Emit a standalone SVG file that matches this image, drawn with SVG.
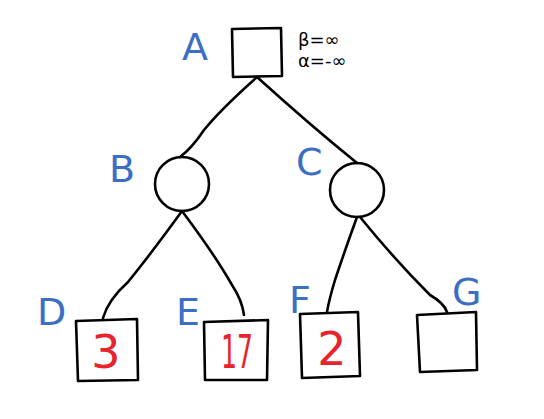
<svg xmlns="http://www.w3.org/2000/svg" width="544" height="419" viewBox="0 0 544 419">
<style>
.shape{fill:none;stroke:#000;stroke-width:2.6;stroke-linecap:round;stroke-linejoin:round}
.lbl{font-family:"DejaVu Sans","Liberation Sans",sans-serif;font-size:38px;fill:#3c6fc4}
.val{font-family:"DejaVu Sans","Liberation Sans",sans-serif;font-size:46px;fill:#e8232b;text-anchor:middle}
.note{font-family:"DejaVu Sans","Liberation Sans",sans-serif;font-size:18px;fill:#000}
</style>
<rect width="544" height="419" fill="#fff"/>
<g id="connectors" class="shape">
<path d="M257,77 Q220,110 204,130 Q192,148 180,157"/>
<path d="M257,77 Q310,125 357,163"/>
<path d="M182,211 Q150,255 128,282 Q108,300 103,318"/>
<path d="M182,211 Q215,255 232,285 Q242,300 244,315"/>
<path d="M357,217 Q345,250 335,280 Q329,300 327,312"/>
<path d="M360,217 Q395,260 430,295 Q444,303 447,312"/>
</g>
<g id="A">
<path class="shape" d="M232,29 L281,28 L282,76 L233,77 Z"/>
<text class="lbl" x="182" y="60">A</text>
<text class="note" x="298" y="46">β=∞</text>
<text class="note" x="298" y="67">α=-∞</text>
</g>
<g id="B">
<circle class="shape" cx="182" cy="184" r="27"/>
<text class="lbl" x="109" y="182">B</text>
</g>
<g id="C">
<circle class="shape" cx="357" cy="190" r="27"/>
<text class="lbl" x="296" y="175">C</text>
</g>
<g id="D">
<path class="shape" d="M76,321 L137,319 L138,380 L78,381 Z"/>
<text class="lbl" x="37" y="325">D</text>
<text class="val" x="106" y="368">3</text>
</g>
<g id="E">
<path class="shape" d="M204,322 L268,320 L267,380 L205,380 Z"/>
<text class="lbl" x="176" y="325">E</text>
<text class="val" x="237" y="368" textLength="32" lengthAdjust="spacingAndGlyphs">17</text>
</g>
<g id="F">
<path class="shape" d="M300,314 L358,312 L360,376 L302,378 Z"/>
<text class="lbl" x="289" y="313">F</text>
<text class="val" x="332" y="365">2</text>
</g>
<g id="G">
<path class="shape" d="M417,315 L476,312 L477,370 L420,372 Z"/>
<text class="lbl" x="452" y="305">G</text>
</g>
</svg>
